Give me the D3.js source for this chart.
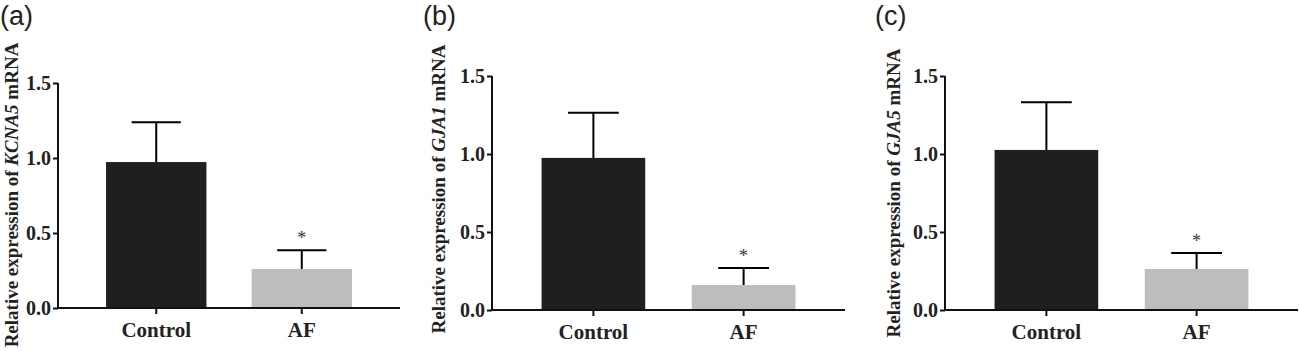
<!DOCTYPE html>
<html>
<head>
<script src="https://cdn.jsdelivr.net/npm/d3@7/dist/d3.min.js"></script>
<style>
    body{ margin:0; background:white; }
    svg{ display:block; }
</style>
</head>
<body>
<div id="chart"></div>
<script>
    // data
    var groups = ["Control", "AF"]
    var panelLetters = ["(a)", "(b)", "(c)"]
    var genes = ["KCNA5", "GJA1", "GJA5"]
    var meanA = [0.973, 0.26]
    var sdA = [0.265, 0.125]
    var meanB = [0.975, 0.16]
    var sdB = [0.29, 0.11]
    var meanC = [1.026, 0.263]
    var sdC = [0.305, 0.102]
    var starred = [false, true]
    var yTicks = [0, 0.5, 1.0, 1.5]

    var barColors = ["#1f1f1f", "#bdbdbd"]
    var serif = "'Liberation Serif','Times New Roman',serif"
    var sans = "'Liberation Sans',Arial,sans-serif"

    // panel frames (axis left, right end, y of 0, y of 1.5)
    var frames = [
        {left:58, right:400, bottom:308, top:83, titleX:17.5, titleY:195, labelX:0},
        {left:492, right:845, bottom:310, top:76, titleX:445, titleY:189, labelX:423},
        {left:945, right:1298, bottom:310, top:76, titleX:900, titleY:193, labelX:875}
    ]
    var means = [meanA, meanB, meanC]
    var sds = [sdA, sdB, sdC]

    var svg = d3.select("#chart").append("svg")
        .attr("width", 1300)
        .attr("height", 351)

    for (var p = 0; p < 3; p++) {
        drawPanel(p)
    }

    function drawPanel(p) {
        var f = frames[p]
        var g = svg.append("g")

        var x = d3.scaleBand().domain(groups).range([f.left, f.right])
            .paddingInner(0.31).paddingOuter(0.33)
        var y = d3.scaleLinear().domain([0, 1.5]).range([f.bottom, f.top])

        var rows = groups.map(function(k, i){
            return {name:k, mean:means[p][i], sd:sds[p][i], star:starred[i], color:barColors[i]}
        })

        // bars
        g.selectAll("rect.bar").data(rows).enter().append("rect")
            .attr("class", "bar")
            .attr("x", function(d){ return x(d.name) })
            .attr("width", x.bandwidth())
            .attr("y", function(d){ return y(d.mean) })
            .attr("height", function(d){ return y(0) - y(d.mean) })
            .attr("fill", function(d){ return d.color })

        // error bars (upper only)
        var capW = x.bandwidth() * 0.49
        g.selectAll("line.err").data(rows).enter().append("line")
            .attr("class", "err")
            .attr("x1", function(d){ return x(d.name) + x.bandwidth()/2 })
            .attr("x2", function(d){ return x(d.name) + x.bandwidth()/2 })
            .attr("y1", function(d){ return y(d.mean) })
            .attr("y2", function(d){ return y(d.mean + d.sd) })
            .attr("stroke", "black").attr("stroke-width", 2)
        g.selectAll("line.cap").data(rows).enter().append("line")
            .attr("class", "cap")
            .attr("x1", function(d){ return x(d.name) + x.bandwidth()/2 - capW/2 })
            .attr("x2", function(d){ return x(d.name) + x.bandwidth()/2 + capW/2 })
            .attr("y1", function(d){ return y(d.mean + d.sd) })
            .attr("y2", function(d){ return y(d.mean + d.sd) })
            .attr("stroke", "black").attr("stroke-width", 2)

        // significance stars
        g.selectAll("text.star").data(rows.filter(function(d){ return d.star })).enter().append("text")
            .attr("class", "star")
            .attr("x", function(d){ return x(d.name) + x.bandwidth()/2 })
            .attr("y", function(d){ return y(d.mean + d.sd) - 6 })
            .attr("text-anchor", "middle")
            .style("font-family", serif)
            .style("font-size", "18px")
            .attr("fill", "#333")
            .text("*")

        // axes
        var yAxis = d3.axisLeft(y).tickValues(yTicks).tickFormat(d3.format(".1f"))
            .tickSize(5).tickSizeOuter(0).tickPadding(2)
        var ya = g.append("g").attr("transform", "translate(" + f.left + ",0)").call(yAxis)
        ya.selectAll("text").style("font-family", serif).style("font-size", "20px")
            .style("font-weight", "bold").attr("fill", "#222")

        var xAxis = d3.axisBottom(x).tickSize(6).tickSizeOuter(0).tickPadding(8)
        var xa = g.append("g").attr("transform", "translate(0," + f.bottom + ")").call(xAxis)
        xa.selectAll("text").style("font-family", serif).style("font-size", "21px")
            .style("font-weight", "bold").attr("fill", "#222")

        g.selectAll(".domain, .tick line").attr("stroke", "#111").attr("stroke-width", 2)
        ya.select(".domain").attr("d", "M0," + f.bottom + "V" + f.top)
        xa.select(".domain").attr("d", "M" + (f.left - 1) + ",0H" + f.right)

        // y title
        var title = g.append("text")
            .attr("transform", "translate(" + f.titleX + "," + f.titleY + ") rotate(-90)")
            .attr("text-anchor", "middle")
            .style("font-family", serif)
            .style("font-size", "19px")
            .style("font-weight", "bold")
            .attr("fill", "#222")
        title.append("tspan").text("Relative expression of ")
        title.append("tspan").style("font-style", "italic").text(genes[p])
        title.append("tspan").text(" mRNA")

        // panel letter
        g.append("text")
            .attr("x", f.labelX)
            .attr("y", 25)
            .style("font-family", sans)
            .style("font-size", "27px")
            .attr("fill", "#222")
            .text(panelLetters[p])
    }
</script>
</body>
</html>
